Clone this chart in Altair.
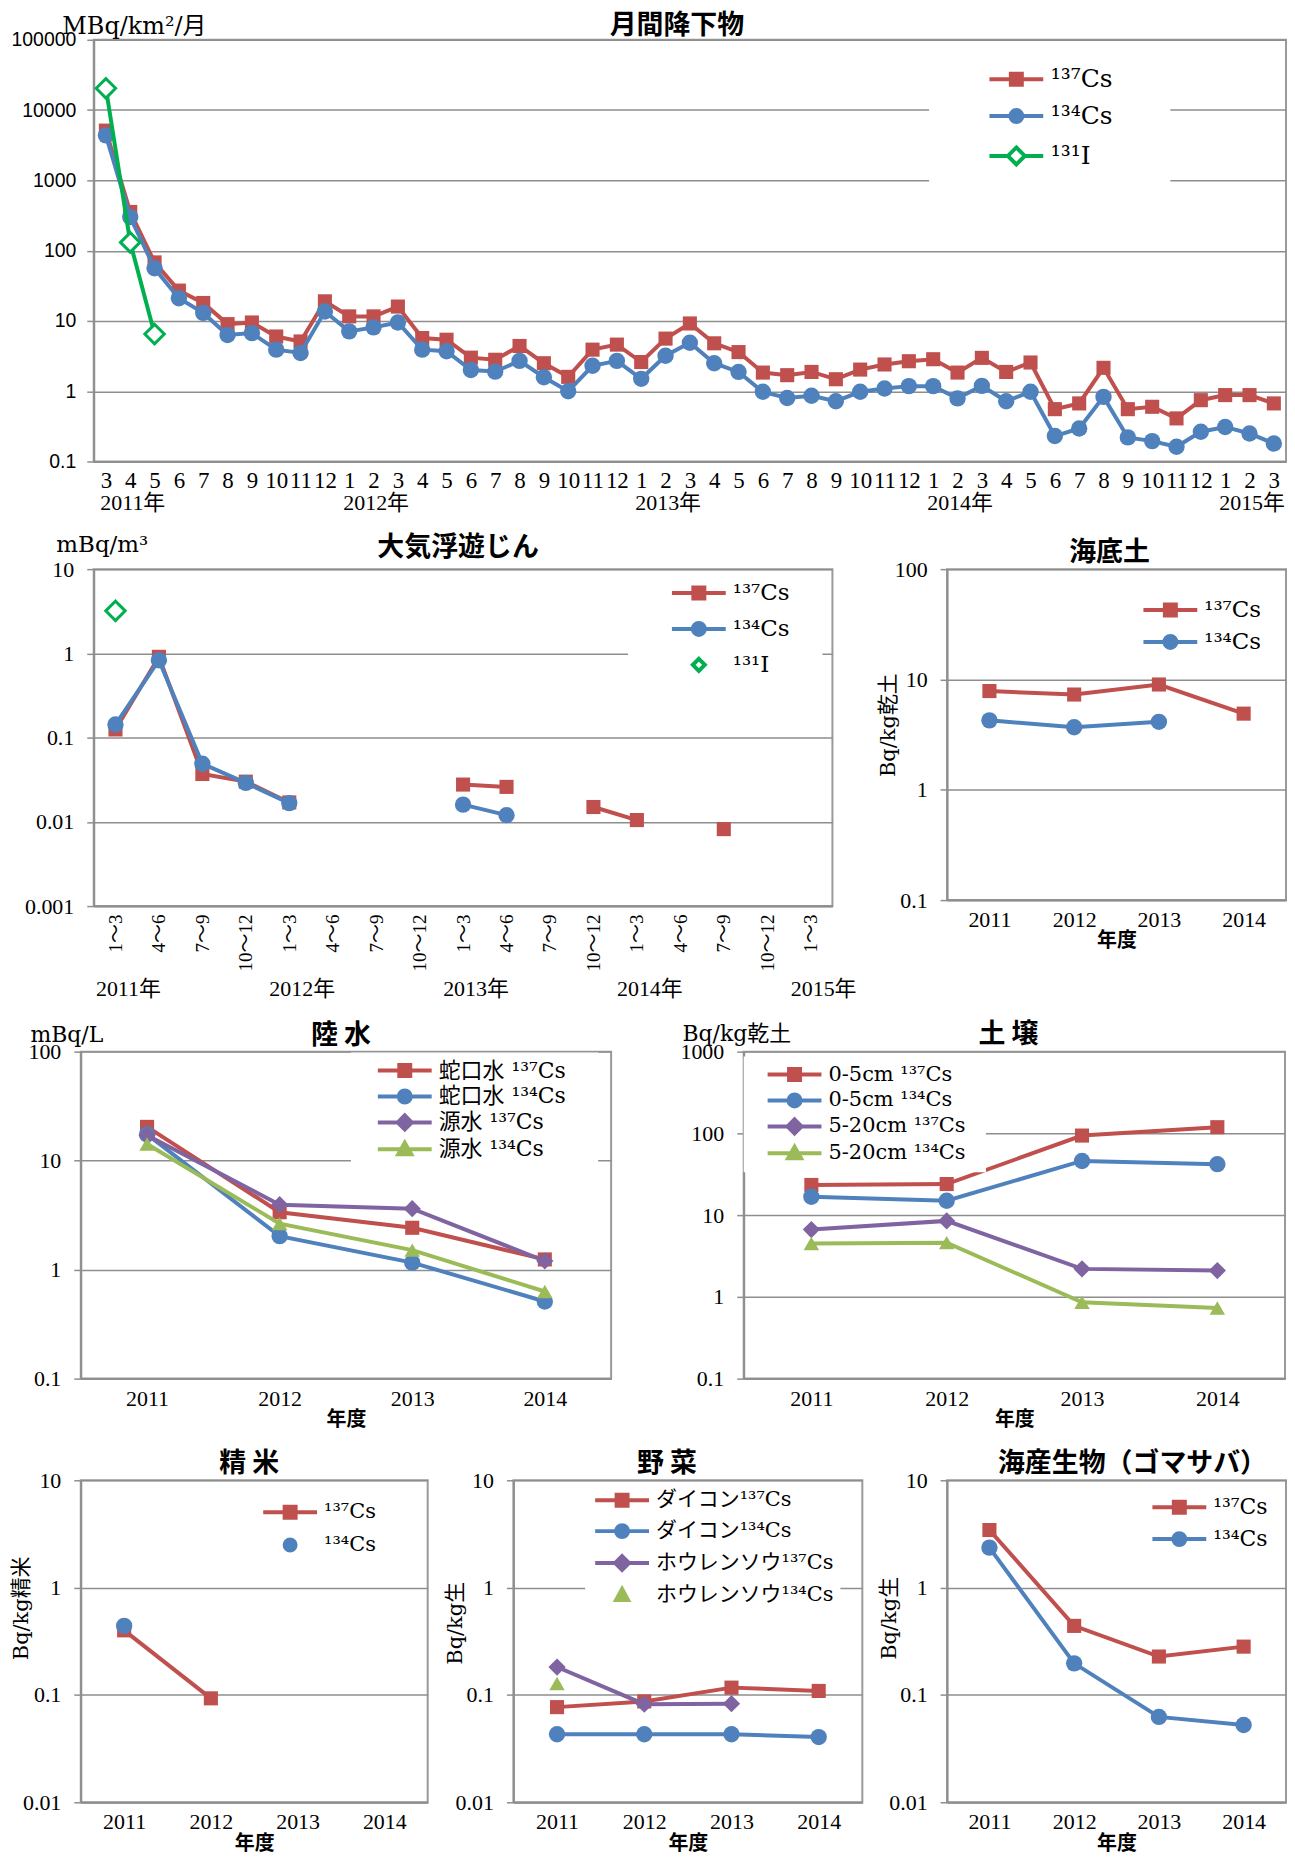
import altair as alt
import pandas as pd

RED = "#C0504D"
BLUE = "#4F81BD"
IGREEN = "#00B050"
PURPLE = "#8064A2"
LGREEN = "#9BBB59"
GRAY = "#8e8e8e"
NUM = "Liberation Serif, Noto Sans CJK JP"
TXT = "DejaVu Serif, Noto Sans CJK JP"
SANS = "Liberation Sans, Noto Sans CJK JP"
GOTHIC = "Noto Sans CJK JP"

# ---------------- data ----------------
fallout_months = (["2011-%d" % m for m in range(3, 13)] + ["2012-%d" % m for m in range(1, 13)]
                  + ["2013-%d" % m for m in range(1, 13)] + ["2014-%d" % m for m in range(1, 13)]
                  + ["2015-%d" % m for m in range(1, 4)])
fallout_cs137 = [5100, 355, 68, 27, 18, 9.0, 9.5, 6.0, 5.1, 19,
                 11.6, 11.6, 16, 5.7, 5.4, 3.0, 2.8, 4.4, 2.5, 1.6, 3.9, 4.6,
                 2.6, 5.6, 9.2, 4.8, 3.6, 1.84, 1.69, 1.88, 1.48, 2.03, 2.4, 2.67,
                 2.85, 1.84, 2.98, 1.88, 2.56, 0.555, 0.67, 2.15, 0.555, 0.60, 0.41, 0.745,
                 0.88, 0.88, 0.67]
fallout_cs134 = [4370, 300, 56, 21, 13, 6.3, 6.7, 3.9, 3.5, 13.6,
                 7.1, 8.1, 9.5, 3.9, 3.7, 2.0, 1.9, 2.7, 1.58, 1.0, 2.3, 2.7,
                 1.5, 3.2, 4.9, 2.5, 1.88, 0.98, 0.80, 0.86, 0.72, 0.98, 1.09, 1.18,
                 1.18, 0.79, 1.19, 0.72, 0.98, 0.23, 0.295, 0.83, 0.22, 0.195, 0.162, 0.265,
                 0.31, 0.25, 0.18]
fallout_i131 = [20400, 131, 6.5] + [None] * 46
fallout_year_keys = ["2011-3", "2012-1", "2013-1", "2014-1", "2015-1"]
year_labels = ["2011年", "2012年", "2013年", "2014年", "2015年"]

dust_quarters = ["2011 1～3", "2011 4～6", "2011 7～9", "2011 10～12",
                 "2012 1～3", "2012 4～6", "2012 7～9", "2012 10～12",
                 "2013 1～3", "2013 4～6", "2013 7～9", "2013 10～12",
                 "2014 1～3", "2014 4～6", "2014 7～9", "2014 10～12",
                 "2015 1～3"]
dust_cs137 = [0.125, 0.91, 0.037, 0.030, 0.017, None, None, None,
              0.0277, 0.026, None, 0.015, 0.0105, None, 0.0082, None, None]
dust_cs134 = [0.143, 0.83, 0.049, 0.029, 0.0167, None, None, None,
              0.016, 0.012, None, None, None, None, None, None, None]
dust_i131 = [3.2] + [None] * 16
dust_year_keys = ["2011 1～3", "2012 1～3", "2013 1～3", "2014 1～3", "2015 1～3"]

fiscal_years = ["2011", "2012", "2013", "2014"]
seasoil_cs137 = [7.85, 7.3, 9.0, 4.9]
seasoil_cs134 = [4.26, 3.69, 4.13, None]
tap_cs137 = [20.4, 3.36, 2.42, 1.24]
tap_cs134 = [17.4, 2.03, 1.16, 0.51]
raw_cs137 = [17.1, 3.94, 3.62, 1.2]
raw_cs134 = [14.2, 2.64, 1.51, 0.63]
soil_top137 = [23.4, 24, 94, 119]
soil_top134 = [16.8, 15, 46, 42]
soil_deep137 = [6.65, 8.5, 2.2, 2.1]
soil_deep134 = [4.5, 4.6, 0.86, 0.73]
rice_cs137 = [0.40, 0.093, None, None]
rice_cs134 = [0.44, None, None, None]
radish_cs137 = [0.077, 0.087, 0.117, 0.109]
radish_cs134 = [0.043, 0.043, 0.043, 0.0405]
spinach_cs137 = [0.182, 0.082, 0.083, None]
spinach_cs134 = [0.128, None, None, None]
mackerel_cs137 = [3.44, 0.44, 0.228, 0.282]
mackerel_cs134 = [2.36, 0.197, 0.0624, 0.0525]

# ---------------- helpers ----------------
MARKS = {
    "square": dict(shape="square", size=200),
    "circle": dict(shape="circle", size=270),
    "diamond": dict(shape="diamond", size=300),
    "triangle": dict(shape="triangle-up", size=240),
}
LN = "M-2.7,0H2.7"
PATH = {
    "square": LN + "M-0.55,-0.55H0.55V0.55H-0.55Z",
    "circle": LN + "M0.6,0A0.6,0.6,0,1,1,-0.6,0A0.6,0.6,0,1,1,0.6,0Z",
    "diamond": LN + "M0,-0.7L0.7,0L0,0.7L-0.7,0Z",
    "triangle": LN + "M0,-0.65L0.65,0.5L-0.65,0.5Z",
    "odiamond": "M-2.7,0H-0.85M0.85,0H2.7M0,-0.85L0.85,0L0,0.85L-0.85,0Z",
    "dot": "M0.55,0A0.55,0.55,0,1,1,-0.55,0A0.55,0.55,0,1,1,0.55,0Z",
    "tri": "M0,-0.6L0.6,0.5L-0.6,0.5Z",
    "sdiamond": "M0,-0.6L0.6,0L0,0.6L-0.6,0Z",
}


def ser(name, values, color, marker, path, line=True, fill=None):
    return dict(name=name, values=values, color=color, marker=marker, path=path,
                line=line, fill=fill or color)


def seg_frame(cats, vals):
    rows, seg, prev = [], 0, None
    for i, v in enumerate(vals):
        if v is None:
            continue
        if prev is not None and i != prev + 1:
            seg += 1
        rows.append({"cat": cats[i], "v": v, "seg": seg})
        prev = i
    return pd.DataFrame(rows)


def legend(x, y, pad, fs, rp, extra, wide):
    return alt.Legend(orient="none", legendX=x, legendY=y, title=None, fillColor="white",
                      padding=pad, labelFont=TXT, labelFontSize=fs, labelLimit=800,
                      labelColor="black", symbolSize=400, symbolStrokeWidth=4,
                      symbolOpacity=1, symbolOffset=17 + extra, labelOffset=22,
                      rowPadding=rp)


def yaxis(ticks, title, tx, ty, rotated=False, lf=NUM, lfs=22, tfs=22, lpad=13):
    kw = dict(values=ticks, format="~g", grid=True, tickSize=7, labelPadding=lpad,
              labelFont=lf, labelFontSize=lfs, labelColor="black",
              title=title, titleFont=TXT, titleFontSize=tfs, titleFontWeight="normal",
              titleColor="black", titleX=tx, titleY=ty)
    if rotated:
        kw.update(titleAngle=270, titleAlign="center", titleBaseline="middle")
    else:
        kw.update(titleAngle=0, titleAlign="left", titleBaseline="alphabetic")
    return alt.Axis(**kw)


def year_xaxis():
    return alt.Axis(labelAngle=0, labelFont=NUM, labelFontSize=22, labelPadding=9.5,
                    labelColor="black", ticks=False, grid=False, title="年度",
                    titleFont=GOTHIC, titleFontSize=20, titleFontWeight="bold",
                    titleColor="black", titlePadding=0.5)


def make_panel(cats, series, w, h, xaxis, ydomain, yax, title, leg, years=None):
    X = alt.X("cat:N", scale=alt.Scale(type="point", domain=cats, padding=0.5), axis=xaxis)
    Y = alt.Y("v:Q", scale=alt.Scale(type="log", domain=ydomain, nice=False), axis=yax)
    layers = []
    for s in series:
        df = seg_frame(cats, s["values"])
        base = alt.Chart(df)
        if s["line"]:
            layers.append(base.mark_line(color=s["color"], strokeWidth=4)
                          .encode(x=X, y=Y, detail="seg:N"))
        if s["marker"] == "odiamond":
            layers.append(base.mark_point(shape="diamond", size=380, filled=False, fill="white",
                                          stroke=s["color"], strokeWidth=3, opacity=1)
                          .encode(x=X, y=Y))
        else:
            layers.append(base.mark_point(filled=True, color=s["color"], opacity=1,
                                          strokeWidth=0, **MARKS[s["marker"]])
                          .encode(x=X, y=Y))
    names = [s["name"] for s in series]
    paths = [s["path"] for s in series]
    if leg["wide"] > 0:
        # a bare move-to stretches the legend's white box to the right, as in the reference
        paths[0] = paths[0] + "M%.1f,0" % leg["wide"]
    lg = legend(**leg)
    layers.append(
        alt.Chart(pd.DataFrame({"name": names})).transform_filter("false")
        .mark_point(opacity=1, filled=False)
        .encode(
            shape=alt.Shape("name:N", scale=alt.Scale(domain=names, range=paths), legend=lg),
            stroke=alt.Stroke("name:N", scale=alt.Scale(domain=names, range=[s["color"] for s in series]), legend=lg),
            fill=alt.Fill("name:N", scale=alt.Scale(domain=names, range=[s["fill"] for s in series]), legend=lg),
        )
    )
    if years is not None:
        keys, labels, dx, ydist = years
        ydf = pd.DataFrame({"cat": keys, "label": labels})
        layers.append(alt.Chart(ydf).mark_text(font=NUM, fontSize=22, dx=dx, baseline="middle",
                                               color="black")
                      .encode(x=X, y=alt.value(h + ydist), text="label:N"))
    ttl = alt.TitleParams(text=title[0], font=GOTHIC, fontSize=27, fontWeight="bold",
                          anchor="middle", frame="group", dx=title[1], offset=4, dy=title[2],
                          color="black")
    return alt.layer(*layers).properties(width=w, height=h, title=ttl,
                                         view=alt.ViewBackground(stroke="#9a9a9a", strokeWidth=2))


def spacer(w):
    return (alt.Chart(pd.DataFrame({"s": [0]})).mark_point(opacity=0, size=1)
            .encode(x=alt.value(0), y=alt.value(0))
            .properties(width=w, height=1, view=alt.ViewBackground(stroke="transparent")))


def indep(ch):
    return ch.resolve_scale(shape="independent", stroke="independent", fill="independent")


def row(*charts):
    return indep(alt.hconcat(*charts, spacing=0, bounds="flush"))


C137, C134, I131 = "¹³⁷Cs", "¹³⁴Cs", "¹³¹I"

# ---------------- panels ----------------
top_xaxis = alt.Axis(labelExpr="split(datum.value, '-')[1]", labelAngle=0, labelFont=NUM,
                     labelFontSize=23, labelPadding=8, labelColor="black", ticks=False,
                     grid=False, labelOverlap=False, labelBound=False, title=None)
top = make_panel(
    fallout_months,
    [ser(C137, fallout_cs137, RED, "square", PATH["square"]),
     ser(C134, fallout_cs134, BLUE, "circle", PATH["circle"]),
     ser(I131, fallout_i131, IGREEN, "odiamond", PATH["odiamond"], fill="white")],
    1196, 423, top_xaxis, [0.1, 100000],
    yaxis([0.1, 1, 10, 100, 1000, 10000, 100000], "MBq/km²/月", -32, -6, lf=SANS, lfs=19.5,
          tfs=24, lpad=11),
    ("月間降下物", -13, 29.5),
    dict(x=838, y=17, pad=10, fs=25, rp=9, extra=48, wide=13.6),
    years=(fallout_year_keys, year_labels, 27, 42))

dust_xaxis = alt.Axis(labelExpr="split(datum.value, ' ')[1]", labelAngle=270, labelFont=NUM,
                      labelFontSize=19, labelPadding=8, labelColor="black", ticks=False,
                      grid=False, labelOverlap=False, title=None)
dust = make_panel(
    dust_quarters,
    [ser(C137, dust_cs137, RED, "square", PATH["square"]),
     ser(C134, dust_cs134, BLUE, "circle", PATH["circle"]),
     ser(I131, dust_i131, IGREEN, "odiamond", PATH["sdiamond"], line=False, fill="white")],
    741, 338, dust_xaxis, [0.001, 10],
    yaxis([0.001, 0.01, 0.1, 1, 10], "mBq/m³", -38, -18, tfs=23),
    ("大気浮遊じん", -5, 33),
    dict(x=536, y=4, pad=8, fs=23, rp=8, extra=34, wide=10.8),
    years=(dust_year_keys, year_labels, 13, 83))

seasoil = make_panel(
    fiscal_years,
    [ser(C137, seasoil_cs137, RED, "square", PATH["square"]),
     ser(C134, seasoil_cs134, BLUE, "circle", PATH["circle"])],
    340, 332, year_xaxis(), [0.1, 100],
    yaxis([0.1, 1, 10, 100], "Bq/kg乾土", -59, 156, rotated=True, tfs=21),
    ("海底土", -7, 13),
    dict(x=187, y=21, pad=8, fs=23, rp=4, extra=0, wide=0))

water = make_panel(
    fiscal_years,
    [ser("蛇口水  " + C137, tap_cs137, RED, "square", PATH["square"]),
     ser("蛇口水  " + C134, tap_cs134, BLUE, "circle", PATH["circle"]),
     ser("源水  " + C137, raw_cs137, PURPLE, "diamond", PATH["diamond"]),
     ser("源水  " + C134, raw_cs134, LGREEN, "triangle", PATH["triangle"])],
    532, 328, year_xaxis(), [0.1, 100],
    yaxis([0.1, 1, 10, 100], "mBq/L", -51, -10, tfs=22),
    ("陸 水", -5, 30),
    dict(x=271, y=1, pad=6, fs=22, rp=-3, extra=19, wide=18.0))

soil = make_panel(
    fiscal_years,
    [ser("0-5cm " + C137, soil_top137, RED, "square", PATH["square"]),
     ser("0-5cm " + C134, soil_top134, BLUE, "circle", PATH["circle"]),
     ser("5-20cm " + C137, soil_deep137, PURPLE, "diamond", PATH["diamond"]),
     ser("5-20cm " + C134, soil_deep134, LGREEN, "triangle", PATH["triangle"])],
    543, 328, year_xaxis(), [0.1, 1000],
    yaxis([0.1, 1, 10, 100, 1000], "Bq/kg乾土", -62, -11, tfs=22),
    ("土 壌", -6, 30),
    dict(x=0, y=5, pad=6, fs=21, rp=-5, extra=16, wide=17.8))

rice = make_panel(
    fiscal_years,
    [ser(C137, rice_cs137, RED, "square", PATH["square"]),
     ser(C134, rice_cs134, BLUE, "circle", PATH["dot"], line=False)],
    348, 323, year_xaxis(), [0.01, 10],
    yaxis([0.01, 0.1, 1, 10], "Bq/kg精米", -59, 128, rotated=True, tfs=21),
    ("精 米", -5, 13),
    dict(x=173, y=12, pad=8, fs=21, rp=5, extra=0, wide=0))

veg = make_panel(
    fiscal_years,
    [ser("ダイコン" + C137, radish_cs137, RED, "square", PATH["square"]),
     ser("ダイコン" + C134, radish_cs134, BLUE, "circle", PATH["circle"]),
     ser("ホウレンソウ" + C137, spinach_cs137, PURPLE, "diamond", PATH["diamond"]),
     ser("ホウレンソウ" + C134, spinach_cs134, LGREEN, "triangle", PATH["tri"], line=False)],
    350, 323, year_xaxis(), [0.01, 10],
    yaxis([0.01, 0.1, 1, 10], "Bq/kg生", -58, 143, rotated=True, tfs=21),
    ("野 菜", -21, 13),
    dict(x=72, y=2, pad=6, fs=21, rp=3, extra=2, wide=20.4))

marine = make_panel(
    fiscal_years,
    [ser(C137, mackerel_cs137, RED, "square", PATH["square"]),
     ser(C134, mackerel_cs134, BLUE, "circle", PATH["circle"])],
    340, 323, year_xaxis(), [0.01, 10],
    yaxis([0.01, 0.1, 1, 10], "Bq/kg生", -58, 138, rotated=True, tfs=21),
    ("海産生物（ゴマサバ）", 16, 13),
    dict(x=196, y=7, pad=8, fs=22, rp=4, extra=0, wide=0))

row1 = row(spacer(13), top)
row2 = row(spacer(13), dust, spacer(115), seasoil)
row3 = row(water, spacer(133), soil)
row4 = row(rice, spacer(86), veg, spacer(85), marine)

upper = indep(alt.vconcat(row1, row2, spacing=17))
lower = indep(alt.vconcat(row3, row4, spacing=19))
chart = (indep(alt.vconcat(upper, lower, spacing=19))
         .properties(padding={"left": 1, "top": 0, "right": 0, "bottom": 0}, background="white")
         .configure_axis(domainColor=GRAY, domainWidth=2, gridColor=GRAY, gridWidth=1.5,
                         tickColor=GRAY, tickWidth=1.5)
         .configure_view(stroke="#9a9a9a"))

chart.save("out.html", embed_options={"renderer": "svg", "actions": False})
